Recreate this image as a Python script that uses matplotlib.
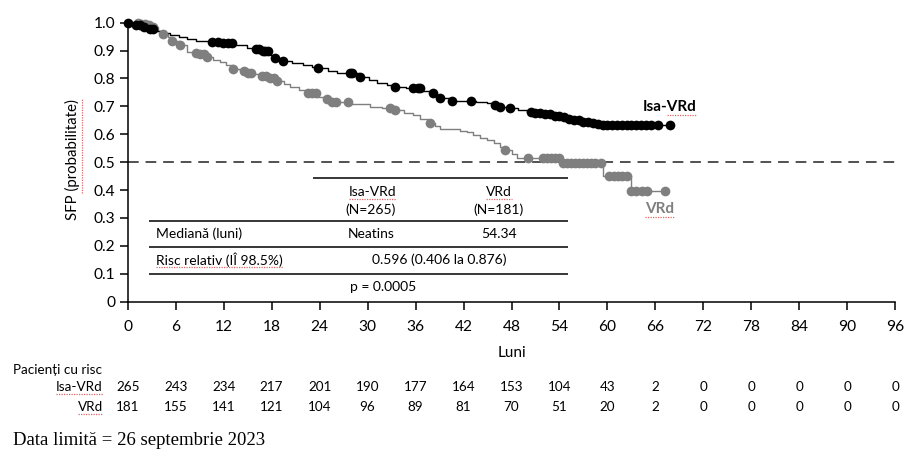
"""
Kaplan-Meier SFP: Isa-VRd vs VRd, cu tabel de pacienti cu risc.
"""

import numpy as np
import matplotlib
matplotlib.use("Agg")
import matplotlib.pyplot as plt
from matplotlib.transforms import blended_transform_factory

plt.rcParams["font.family"] = ["Lato", "DejaVu Sans"]

# ── data ──────────────────────────────────────────────────────────────────────
# step curves: time of drop (months) and survival after that drop
isa_t = [0, 0.8, 1.7, 2.6, 3.5, 4.4, 5.3, 6.4, 7.4, 8.6, 10.3, 11.8, 13.4, 14.9,
         15.8, 16.8, 17.8, 18.3, 19.4, 20.6, 21.9, 23.0, 23.8, 25.0, 26.2, 28.9,
         30.2, 31.2, 32.4, 33.4, 34.8, 36.7, 37.8, 38.6, 39.1, 40.5, 43.6, 44.9,
         45.8, 46.6, 47.6, 48.8, 49.9, 51.0, 52.2, 53.1, 54.1, 55.0, 55.7, 56.8,
         57.8, 58.6, 59.4]
isa_s = [1.0, 0.993, 0.985, 0.978, 0.970, 0.963, 0.956, 0.948, 0.941, 0.936, 0.932,
         0.926, 0.920, 0.910, 0.904, 0.897, 0.886, 0.875, 0.864, 0.856, 0.848, 0.842,
         0.837, 0.828, 0.819, 0.806, 0.795, 0.783, 0.777, 0.771, 0.765, 0.755, 0.747,
         0.738, 0.729, 0.720, 0.715, 0.711, 0.705, 0.699, 0.693, 0.687, 0.681, 0.677,
         0.673, 0.667, 0.662, 0.656, 0.651, 0.645, 0.640, 0.636, 0.633]
isa_end = 67.8

vrd_t = [0, 1.5, 2.4, 3.2, 3.8, 4.4, 5.0, 5.5, 6.5, 7.4, 8.2, 9.0, 9.9, 10.7, 11.5,
         12.3, 13.2, 14.1, 15.0, 15.9, 16.8, 17.7, 18.7, 19.5, 20.3, 21.4, 22.5,
         23.7, 24.6, 25.5, 27.7, 30.3, 31.8, 33.2, 34.5, 35.7, 36.6, 37.6, 38.4,
         39.1, 41.6, 42.4, 43.2, 44.0, 44.9, 45.8, 46.6, 47.2, 48.0, 48.7, 54.3,
         59.5, 62.9]
vrd_s = [1.0, 0.996, 0.991, 0.985, 0.972, 0.959, 0.947, 0.935, 0.920, 0.896, 0.892,
         0.888, 0.877, 0.868, 0.860, 0.847, 0.834, 0.827, 0.821, 0.815, 0.809, 0.800,
         0.792, 0.781, 0.771, 0.760, 0.748, 0.734, 0.725, 0.716, 0.708, 0.699, 0.693,
         0.687, 0.678, 0.669, 0.654, 0.639, 0.628, 0.618, 0.612, 0.607, 0.597, 0.588,
         0.580, 0.568, 0.556, 0.544, 0.529, 0.514, 0.496, 0.451, 0.398]
vrd_end = 67.2

# censored observations (months)
isa_cens = [0, 1.1, 1.6, 2.1, 2.8, 3.2, 10.6, 11.3, 11.9, 12.5, 13.1, 16.0, 16.4,
            16.9, 17.2, 17.5, 18.4, 19.4, 23.8, 27.8, 28.1, 29.1, 33.4, 35.7, 36.3,
            36.6, 38.2, 39.1, 40.6, 42.9, 45.9, 46.6, 47.8, 50.4, 51.0, 51.6, 52.2,
            52.8, 53.4, 54.0, 54.6, 55.2, 55.8, 56.4, 57.0, 57.6, 58.2, 58.8, 59.4,
            60.0, 60.6, 61.2, 61.8, 62.4, 63.0, 63.6, 64.2, 64.8, 65.5, 66.3, 67.8]
vrd_cens = [1.3, 1.7, 2.2, 2.7, 3.2, 4.4, 5.5, 6.5, 8.6, 9.0, 9.5, 9.9, 13.2, 14.6,
            15.0, 15.4, 16.8, 17.3, 17.8, 18.3, 18.7, 22.5, 23.0, 23.6, 24.9, 25.5,
            26.0, 27.6, 32.8, 33.4, 37.8, 47.2, 50.1, 51.9, 52.4, 52.9, 53.5, 54.0,
            54.5, 55.0, 55.5, 56.0, 56.5, 57.0, 57.5, 58.0, 58.5, 59.2, 60.2, 60.8,
            61.3, 61.8, 62.4, 62.9, 63.6, 64.3, 65.0, 67.2]

x_ticks = list(range(0, 97, 6))
y_ticks = [0, 0.1, 0.2, 0.3, 0.4, 0.5, 0.6, 0.7, 0.8, 0.9, 1.0]
y_ticklabels = ["0", "0.1", "0.2", "0.3", "0.4", "0.5", "0.6", "0.7", "0.8", "0.9", "1.0"]

risk_isa = [265, 243, 234, 217, 201, 190, 177, 164, 153, 104, 43, 2, 0, 0, 0, 0, 0]
risk_vrd = [181, 155, 141, 121, 104, 96, 89, 81, 70, 51, 20, 2, 0, 0, 0, 0, 0]

BLACK = "#000000"
GREY = "#7f7f7f"
SQUIG = "#e06666"


def _surv_at(times, surv, t):
    idx = np.searchsorted(times, t, side="right") - 1
    return np.asarray(surv)[np.clip(idx, 0, len(surv) - 1)]


def _km(ax, times, surv, t_end, cens, color):
    xs = list(times) + [t_end]
    ys = list(surv) + [surv[-1]]
    ax.step(xs, ys, where="post", color=color, linewidth=1.0, zorder=3)
    ax.plot(cens, _surv_at(times, surv, cens), "o", color=color,
            markersize=7.0, markeredgewidth=0, clip_on=False, zorder=4)


def _squiggle(fig, txt, start=0.0, vertical=False):
    """Red spell-check style underline below a text artist."""
    r = fig.canvas.get_renderer()
    bb = txt.get_window_extent(renderer=r).transformed(fig.transFigure.inverted())
    if vertical:
        y0 = bb.y0 + (bb.y1 - bb.y0) * start
        fig.add_artist(plt.Line2D([bb.x1 + 0.002] * 2, [y0, bb.y1], color=SQUIG,
                                  linewidth=0.9, linestyle=(0, (1, 1))))
    else:
        x0 = bb.x0 + (bb.x1 - bb.x0) * start
        fig.add_artist(plt.Line2D([x0, bb.x1], [bb.y0 - 0.002] * 2, color=SQUIG,
                                  linewidth=0.9, linestyle=(0, (1, 1))))


fig = plt.figure(figsize=(9.19, 4.62), dpi=100)
ax = fig.add_axes([0.13896, 0.34697, 0.83525, 0.6039])

_km(ax, vrd_t, vrd_s, vrd_end, vrd_cens, GREY)
_km(ax, isa_t, isa_s, isa_end, isa_cens, BLACK)

ax.axhline(0.5, color="#222222", linewidth=1.1, linestyle=(0, (7, 4.5)), zorder=2)

ax.set_xlim(0, 96)
ax.set_ylim(0, 1.0)
ax.set_xticks(x_ticks)
ax.set_yticks(y_ticks)
ax.set_yticklabels(y_ticklabels)
for side in ("top", "right"):
    ax.spines[side].set_visible(False)
for side in ("left", "bottom"):
    ax.spines[side].set_linewidth(1.1)
ax.tick_params(axis="x", direction="out", length=6, width=1.1, pad=7, labelsize=11.2)
ax.tick_params(axis="y", direction="out", length=6, width=1.1, pad=3, labelsize=11.2)

# ── inner summary table ───────────────────────────────────────────────────────
lk = dict(color=BLACK, linewidth=1.1, solid_capstyle="butt")
ax.plot([23.2, 55.1], [0.444, 0.444], **lk)
for yy in (0.289, 0.196, 0.098):
    ax.plot([2.66, 55.1], [yy, yy], **lk)

fs = 10
h_isa = ax.text(30.6, 0.394, "Isa-VRd", ha="center", va="center", fontsize=fs)
ax.text(30.4, 0.329, "(N=265)", ha="center", va="center", fontsize=fs)
h_vrd = ax.text(46.4, 0.394, "VRd", ha="center", va="center", fontsize=fs)
ax.text(46.4, 0.329, "(N=181)", ha="center", va="center", fontsize=fs)
ax.text(3.6, 0.242, "Mediană (luni)", ha="left", va="center", fontsize=fs)
ax.text(30.4, 0.242, "Neatins", ha="center", va="center", fontsize=fs)
ax.text(46.4, 0.242, "54.34", ha="center", va="center", fontsize=fs)
h_risc = ax.text(3.6, 0.152, "Risc relativ (IÎ 98.5%)", ha="left", va="center", fontsize=fs)
ax.text(39.0, 0.152, "0.596 (0.406 la 0.876)", ha="center", va="center", fontsize=fs)
ax.text(31.9, 0.054, "p = 0.0005", ha="center", va="center", fontsize=fs)

# ── curve labels ──────────────────────────────────────────────────────────────
c_isa = ax.text(64.4, 0.698, "Isa-VRd", ha="left", va="center", fontsize=11,
                fontweight="bold", color=BLACK)
c_vrd = ax.text(64.7, 0.332, "VRd", ha="left", va="center", fontsize=11,
                fontweight="bold", color=GREY)

# ── axis labels ───────────────────────────────────────────────────────────────
ylab = fig.text(0.079, 0.655, "SFP (probabilitate)", rotation=90, ha="center",
                va="center", fontsize=10.8)
fig.text(0.5566, 0.236, "Luni", ha="center", va="center", fontsize=11)

# ── patients at risk ──────────────────────────────────────────────────────────
tr = blended_transform_factory(ax.transData, fig.transFigure)
fig.text(0.0142, 0.199, "Pacienți cu risc", ha="left", va="center", fontsize=9.7)
r_isa = fig.text(0.112, 0.162, "Isa-VRd", ha="right", va="center", fontsize=9.7)
r_vrd = fig.text(0.112, 0.119, "VRd", ha="right", va="center", fontsize=9.7)
for x, a, b in zip(x_ticks, risk_isa, risk_vrd):
    ax.text(x, 0.162, str(a), transform=tr, ha="center", va="center", fontsize=9.7)
    ax.text(x, 0.119, str(b), transform=tr, ha="center", va="center", fontsize=9.7)

fig.text(0.0142, 0.046, "Data limită = 26 septembrie 2023", ha="left", va="center",
         fontsize=13.5, family=["Liberation Serif", "DejaVu Serif"])

# spell-check underlines seen in the source image
fig.canvas.draw()
for t in (h_isa, h_vrd, c_vrd, r_isa, r_vrd):
    _squiggle(fig, t)
_squiggle(fig, c_isa, start=0.45)
_squiggle(fig, h_risc, start=0.0)
_squiggle(fig, ylab, start=0.22, vertical=True)

fig.savefig("out.png", dpi=100)
